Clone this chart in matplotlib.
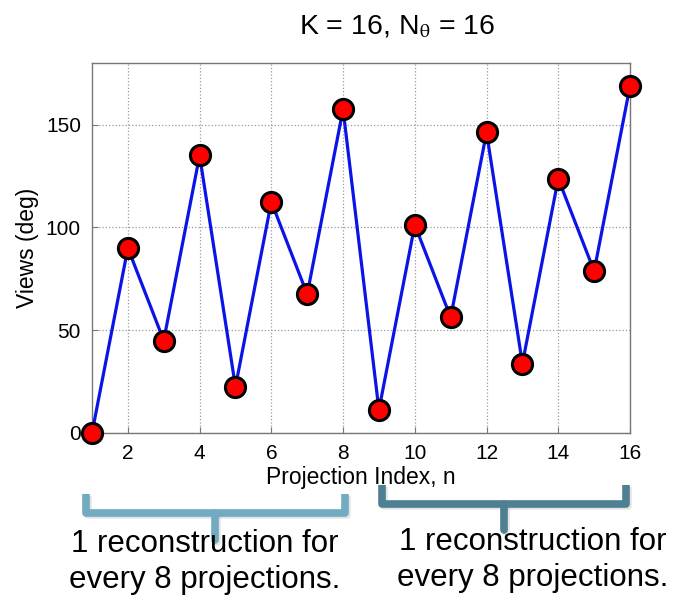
import matplotlib
matplotlib.use("Agg")
import matplotlib.pyplot as plt
import matplotlib.transforms as mtransforms
import matplotlib.patheffects as pe

plt.rcParams['font.family'] = ['Liberation Sans', 'DejaVu Sans']
plt.rcParams['mathtext.fontset'] = 'stix'

# Projection angles (bit-reversed ordering of 16 views over 180 deg)
proj_index = list(range(1, 17))
views_deg = [0, 90, 45, 135, 22.5, 112.5, 67.5, 157.5,
             11.25, 101.25, 56.25, 146.25, 33.75, 123.75, 78.75, 168.75]
x_ticks = [2, 4, 6, 8, 10, 12, 14, 16]
y_ticks = [0, 50, 100, 150]
group_spans = [(1, 8), (9, 16)]
group_label = "1 reconstruction for\nevery 8 projections."

W, H = 681, 601
fig = plt.figure(figsize=(W / 100, H / 100), dpi=100)
ax = fig.add_axes([92 / W, 1 - 433 / H, (630 - 92) / W, (433 - 63) / H])

ax.plot(proj_index, views_deg, color='#0a14e6', lw=2.3, zorder=3)
ax.plot(proj_index, views_deg, ls='none', marker='o', ms=14.5,
        mfc='#ff0000', mec='black', mew=2.2, zorder=4, clip_on=False)

ax.set_xlim(1, 16)
ax.set_ylim(0, 180)
ax.set_xticks(x_ticks)
ax.set_yticks(y_ticks)
ax.grid(True, ls=':', color='#9a9a9a', lw=0.9)
ax.set_axisbelow(True)
for s in ax.spines.values():
    s.set_color('#777777')
    s.set_linewidth(1.0)
ax.tick_params(direction='in', length=4, color='#777777', labelsize=15, pad=8)
ax.set_xlabel('Projection Index, n', fontsize=16.5, labelpad=2)
ax.set_ylabel('Views (deg)', fontsize=16.5, labelpad=5)

fig.text(397 / W, 1 - 27 / H, r'K = 16, N$_{\mathrm{\theta}}$ = 16', fontsize=20.5,
         ha='center', va='center')

# Brackets grouping the projections, x in data units, y in pixels from top
trans = mtransforms.blended_transform_factory(ax.transData, fig.transFigure)
colors = ['#72aac1', '#4f7f92']
pads = [(-0.17, 0.05), (0.08, -0.1)]
tops = [494, 485]
bars = [513, 504]
stems = [540, 530]
shadow = [pe.SimpleLineShadow(offset=(1.5, -1.5), shadow_color='gray', alpha=0.2),
          pe.Normal()]
for (a, b), c, (pa, pb), t, m, s in zip(group_spans, colors, pads, tops, bars, stems):
    xa, xb = a + pa, b + pb
    xs = [xa, xa, xb, xb]
    ys = [1 - t / H, 1 - m / H, 1 - m / H, 1 - t / H]
    ax.plot(xs, ys, transform=trans, color=c, lw=5.5, clip_on=False,
            solid_joinstyle='round', solid_capstyle='butt', path_effects=shadow)
    xm = (xa + xb) / 2
    ax.plot([xm, xm], [1 - m / H, 1 - s / H], transform=trans, color=c,
            lw=5.5, clip_on=False, solid_capstyle='round', path_effects=shadow)

fig.text(205 / W, 1 - 562 / H, group_label, fontsize=22.5, ha='center',
         va='center', linespacing=1.22)
fig.text(533 / W, 1 - 560 / H, group_label, fontsize=22.5, ha='center',
         va='center', linespacing=1.22)

fig.savefig('out.png', dpi=100)
